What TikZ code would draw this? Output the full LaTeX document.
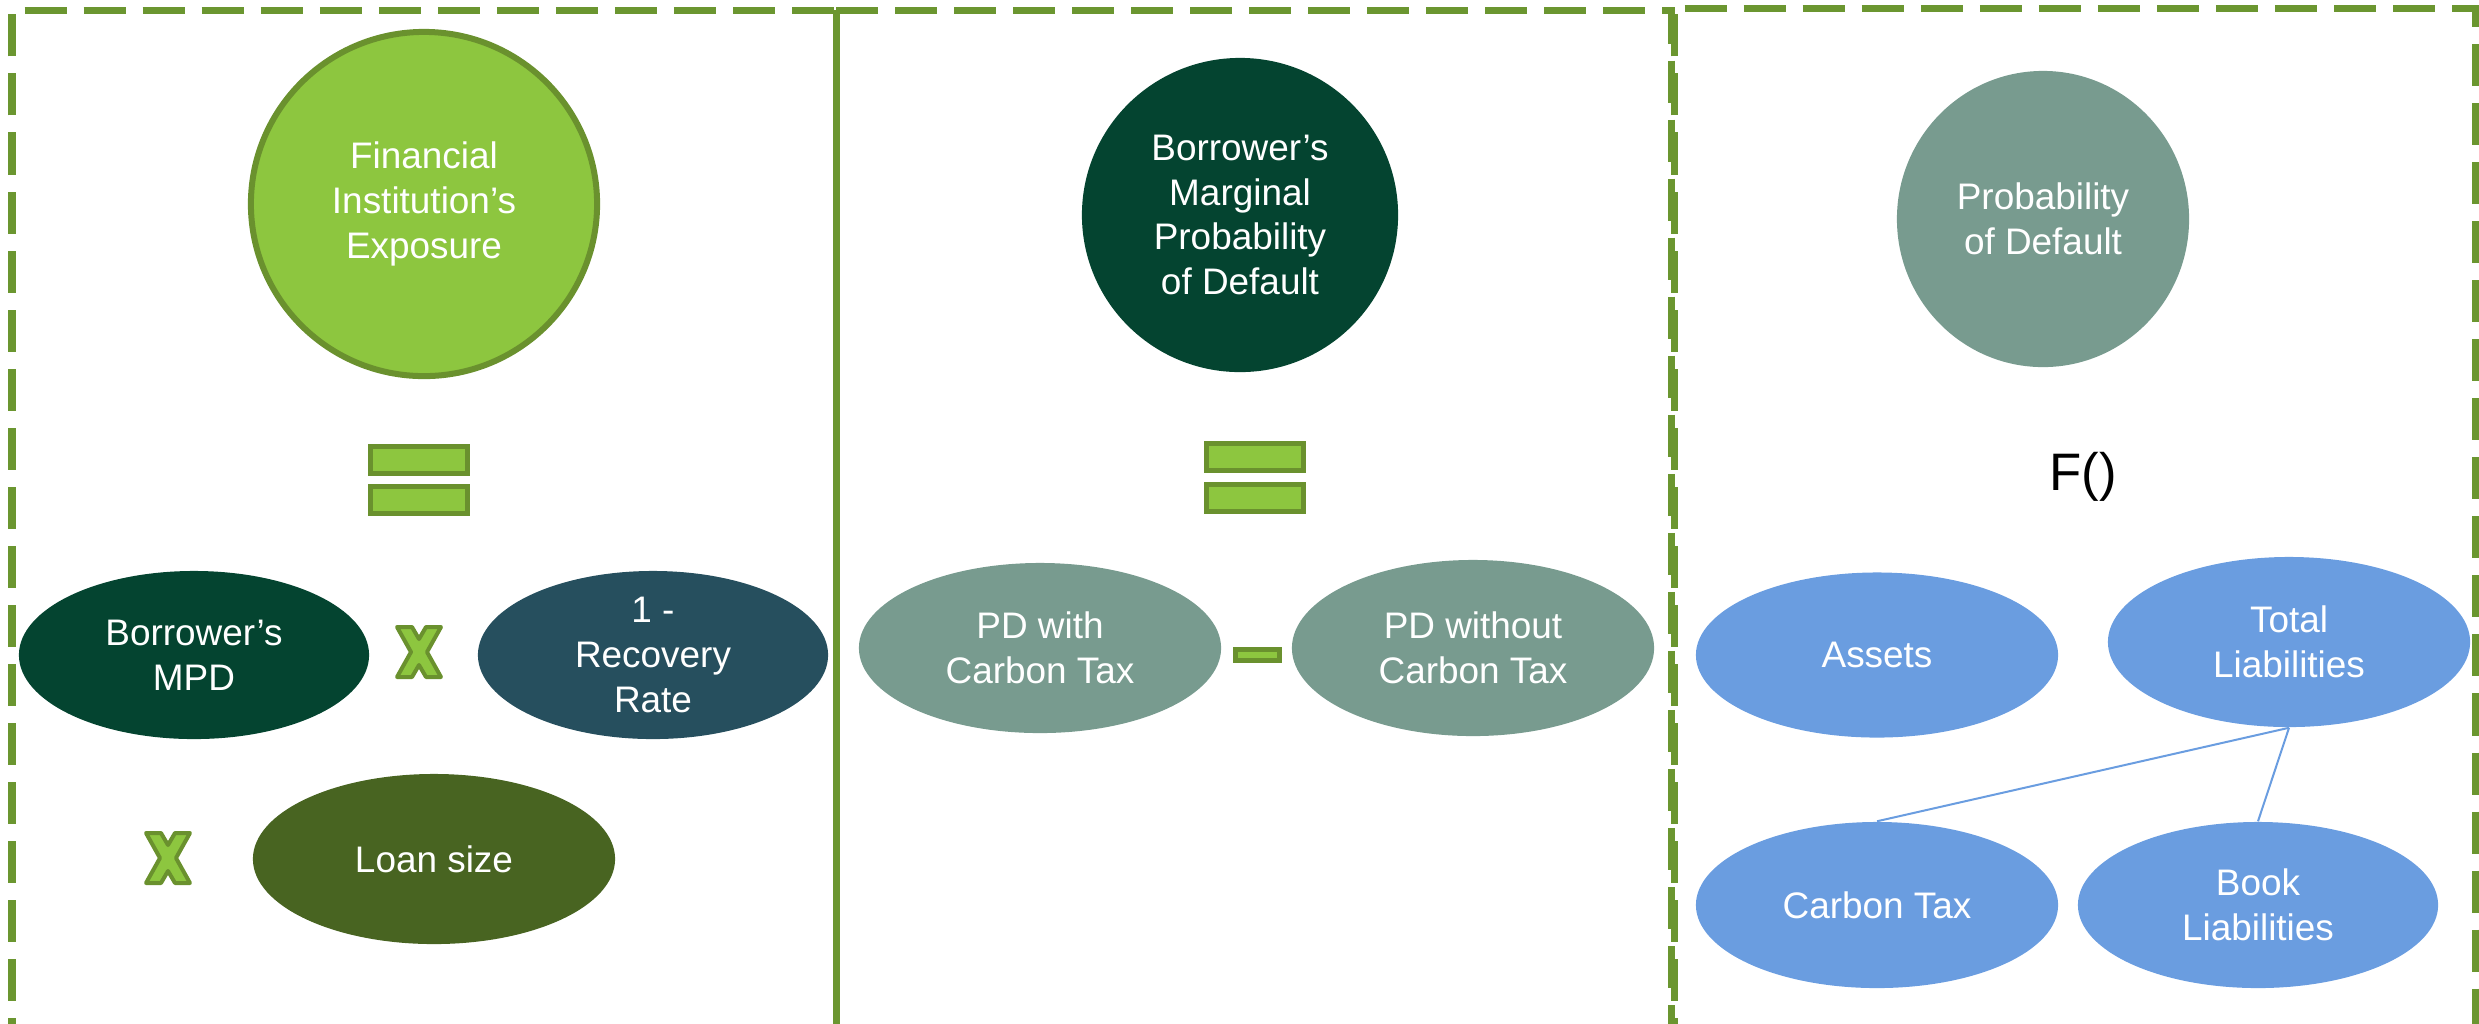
\documentclass[tikz,border=0pt]{standalone}
\usepackage{fontspec}
\setmainfont{Liberation Sans}
\usetikzlibrary{shapes.geometric}
\definecolor{framegreen}{RGB}{107,150,48}
\definecolor{leafgreen}{RGB}{141,198,63}
\definecolor{leafedge}{RGB}{106,145,46}
\definecolor{deepgreen}{RGB}{4,68,48}
\definecolor{slateteal}{RGB}{38,79,94}
\definecolor{mossgreen}{RGB}{72,100,33}
\definecolor{sagegray}{RGB}{120,155,143}
\definecolor{skyblue}{RGB}{106,157,224}

\tikzset{
  bubble/.style={ellipse, inner sep=0pt, text=white, align=center, font=\fontsize{10.5}{12.7}\selectfont},
  frame/.style={framegreen, line width=0.07cm, dash pattern=on 0.42cm off 0.17cm},
  opbar/.style={draw=leafedge, fill=leafgreen, line width=0.05cm, inner sep=0pt},
}

% multiplication mark centred at (#1,#2)
\newcommand{\timesmark}[2]{%
  \draw[opbar, line width=0.04cm, line join=round, shift={(#1,#2)}]
    (-22,-25) -- (-7,-25) -- (0,-13) -- (7,-25) -- (22,-25) -- (8,0) -- (22,25)
    -- (7,25) -- (0,13) -- (-7,25) -- (-22,25) -- (-8,0) -- cycle;}

\begin{document}
\begin{tikzpicture}[x=0.01cm, y=-0.01cm]
\clip (0,0) rectangle (2479,1023);

% Panel frames
\draw[frame] (12,1060) |- (836,10);
\draw[framegreen, line width=0.07cm] (836,10) -- (836,1060);
\draw[frame] (836,10) -| (1671,1060);
\draw[frame] (1674,1060) |- (2475,8) -- (2475,1060);

% Panel 1: exposure
\node[bubble, fill=leafgreen, draw=leafedge, line width=0.06cm, minimum width=3.46cm, minimum height=3.44cm] (expo) at (424,204) {Financial\\Institution’s\\Exposure};
\node[opbar, minimum width=0.97cm, minimum height=0.27cm] (eqtop1) at (419,460) {};
\node[opbar, minimum width=0.97cm, minimum height=0.27cm] (eqbot1) at (419,500) {};
\node[bubble, fill=deepgreen, minimum width=3.50cm, minimum height=1.68cm] (mpd) at (194,655) {Borrower’s\\MPD};
\timesmark{419}{652}
\node[bubble, fill=slateteal, minimum width=3.50cm, minimum height=1.68cm] (recov) at (653,655) {1 -\\Recovery\\Rate};
\timesmark{168}{858}
\node[bubble, fill=mossgreen, minimum width=3.62cm, minimum height=1.70cm] (loan) at (434,859) {Loan size};

% Panel 2: marginal PD
\node[bubble, fill=deepgreen, minimum width=3.16cm, minimum height=3.14cm] (mpdbig) at (1240,215) {Borrower’s\\Marginal\\Probability\\of Default};
\node[opbar, minimum width=0.97cm, minimum height=0.27cm] (eqtop2) at (1255,457) {};
\node[opbar, minimum width=0.97cm, minimum height=0.27cm] (eqbot2) at (1255,498) {};
\node[bubble, fill=sagegray, minimum width=3.62cm, minimum height=1.70cm] (pdwith) at (1040,648) {PD with\\Carbon Tax};
\node[opbar, minimum width=0.44cm, minimum height=0.11cm] (minus) at (1257,655) {};
\node[bubble, fill=sagegray, minimum width=3.62cm, minimum height=1.76cm] (pdwithout) at (1473,648) {PD without\\Carbon Tax};

% Panel 3: structural model
\node[bubble, fill=sagegray, minimum width=2.92cm, minimum height=2.96cm] (pd) at (2043,219) {Probability\\of Default};
\node[font=\fontsize{15}{18}\selectfont] (func) at (2083,477) {F()};
\node[bubble, fill=skyblue, minimum width=3.62cm, minimum height=1.65cm] (assets) at (1877,655) {Assets};
\node[bubble, fill=skyblue, minimum width=3.62cm, minimum height=1.70cm] (totliab) at (2289,642) {Total\\Liabilities};
\node[bubble, fill=skyblue, minimum width=3.62cm, minimum height=1.66cm] (ctax) at (1877,905) {Carbon Tax};
\node[bubble, fill=skyblue, minimum width=3.60cm, minimum height=1.66cm] (bookliab) at (2258,905) {Book\\Liabilities};
\draw[skyblue, line width=0.02cm] (totliab.south) -- (ctax.north);
\draw[skyblue, line width=0.02cm] (totliab.south) -- (bookliab.north);
\end{tikzpicture}
\end{document}
